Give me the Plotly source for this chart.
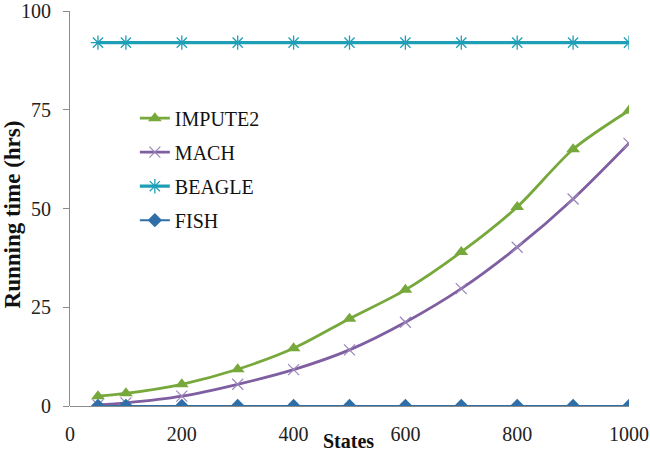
import plotly.graph_objects as go

states = [50, 100, 200, 300, 400, 500, 600, 700, 800, 900, 1000]
impute2 = [2.5, 3.2, 5.5, 9.3, 14.6, 22.1, 29.4, 39.0, 50.4, 65.0, 74.8]
mach = [0.3, 0.8, 2.5, 5.5, 9.2, 14.2, 21.2, 29.7, 40.2, 52.4, 66.5]
beagle = [92] * 11
fish = [0] * 11

font_family = "Liberation Serif, Times New Roman, serif"

fig = go.Figure()
series = [
    ("IMPUTE2", impute2, "#77A83B", dict(symbol="triangle-up", size=12), 2.8),
    ("MACH", mach, "#7F5FA1", dict(symbol="x-thin", size=11, line=dict(width=1.2, color="#9A86BA")), 2.8),
    ("BEAGLE", beagle, "#1E9FB6", dict(symbol="asterisk-open", size=12, line=dict(width=1.3, color="#33AFC6")), 3.2),
    ("FISH", fish, "#2E6FA7", dict(symbol="diamond", size=11), 2),
]
for name, vals, color, marker, lw in series:
    m = dict(color=color)
    m.update(marker)
    fig.add_trace(go.Scatter(
        x=states, y=vals, name=name, mode="lines+markers",
        line=dict(color=color, width=lw, shape="spline", smoothing=0.8),
        marker=m, legendgroup=name,
    ))

fig.update_layout(
    width=650, height=452,
    margin=dict(l=70, r=21, t=11, b=46, autoexpand=False),
    plot_bgcolor="white", paper_bgcolor="white",
    font=dict(family=font_family, size=20, color="#222"),
    showlegend=True,
    legend=dict(x=0.116, y=0.778, xanchor="left", yanchor="top",
                bgcolor="rgba(0,0,0,0)", tracegroupgap=5,
                font=dict(family=font_family, size=20, color="#111")),
    xaxis=dict(range=[0, 1000], dtick=200, tick0=0, showgrid=False, zeroline=False,
               showline=False, ticks="outside", ticklen=10, tickcolor="rgba(0,0,0,0)",
               automargin=False,
               tickfont=dict(family=font_family, size=20)),
    yaxis=dict(range=[0, 100], tickvals=[0, 25, 50, 75, 100], showgrid=False, zeroline=True,
               zerolinecolor="#8C8C8C", zerolinewidth=1, automargin=False,
               showline=True, linecolor="#8C8C8C", linewidth=1, ticks="outside", ticklen=6,
               tickcolor="#8C8C8C", ticklabelstandoff=8,
               tickfont=dict(family=font_family, size=20)),
    annotations=[
        dict(text="<b>States</b>", x=0.499, y=-0.088, xref="paper", yref="paper",
             showarrow=False, font=dict(family=font_family, size=20, color="#111"),
             xanchor="center", yanchor="middle"),
        dict(text="<b>Running time (hrs)</b>", x=-0.103, y=0.486, xref="paper", yref="paper",
             showarrow=False, textangle=-90, font=dict(family=font_family, size=23, color="#111"),
             xanchor="center", yanchor="middle"),
    ],
)

fig.write_html("out.html", config={"displayModeBar": False},
               post_script="document.body.style.margin='0';")
